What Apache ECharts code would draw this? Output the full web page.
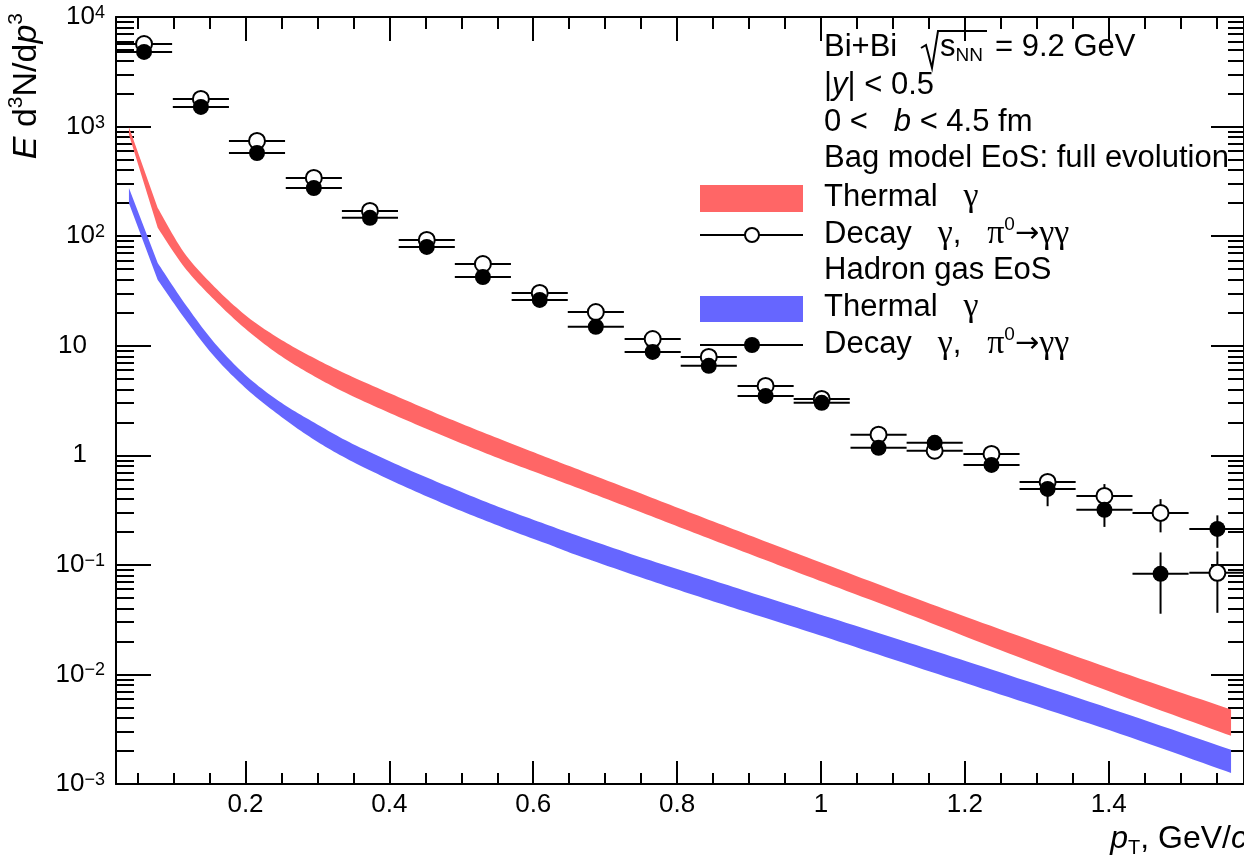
<!DOCTYPE html>
<html>
<head>
<meta charset="utf-8">
<script src="https://cdn.jsdelivr.net/npm/echarts@6/dist/echarts.min.js"></script>
<style>
html, body { margin: 0; padding: 0; background: #fff; }
#chart { width: 1244px; height: 857px; }
</style>
</head>
<body>
<div id="chart"></div>
<script>
// pT bin centres of the decay-photon histograms, GeV/c
var binCenters = [0.059, 0.138, 0.216, 0.295, 0.373, 0.452, 0.530, 0.609, 0.687, 0.766,
                  0.844, 0.923, 1.001, 1.080, 1.158, 1.237, 1.315, 1.394, 1.472, 1.551];
var binHalf = 0.039;

// Bag model EoS, decay gamma (open circles)
var bagDecay = [5670, 1786, 739, 340, 170, 92.3, 55.7, 30.3, 20.3, 11.5,
                7.9, 4.30, 3.27, 1.54, 1.10, 1.03, 0.571, 0.426, 0.298, 0.0845];
var bagDecayErr = [60, 25, 12, 6, 3.5, 2.2, 1.5, 0.9, 0.7, 0.45,
                   0.35, 0.25, 0.2, 0.12, 0.12, 0.1, 0.09, 0.12, 0.1, 0.048];

// Hadron gas EoS, decay gamma (filled circles)
var hadDecay = [4800, 1510, 574, 275, 147, 79.7, 42.4, 26.2, 14.9, 8.78,
                6.55, 3.48, 3.01, 1.17, 1.30, 0.817, 0.493, 0.318, 0.0828, 0.213];
var hadDecayErr = [55, 22, 11, 5.5, 3.2, 2, 1.3, 0.85, 0.6, 0.4,
                   0.32, 0.22, 0.2, 0.12, 0.15, 0.1, 0.15, 0.096, 0.047, 0.07];

// thermal photon bands (upper / lower edge)
var bandPt = [0.038, 0.078, 0.115, 0.157, 0.203, 0.25, 0.296, 0.344, 0.413, 0.483, 0.552,
              0.622, 0.663, 0.75, 0.83, 0.913, 0.997, 1.122, 1.248, 1.415, 1.57];
var bagTop = [991, 181, 70.3, 34.4, 18.3, 11.3, 7.67, 5.37, 3.39, 2.16, 1.42,
              0.940, 0.740, 0.447, 0.280, 0.173, 0.1067, 0.0522, 0.0260, 0.0106, 0.00479];
var bagLow = [843, 119, 52.1, 26.1, 13.7, 8.0, 5.25, 3.59, 2.24, 1.43, 0.938,
              0.631, 0.500, 0.302, 0.189, 0.117, 0.0721, 0.0353, 0.0168, 0.00646, 0.00275];
var hadTop = [275, 56.9, 24.6, 10.6, 5.19, 3.01, 1.98, 1.32, 0.809, 0.515, 0.338,
              0.229, 0.183, 0.117, 0.0794, 0.0531, 0.0355, 0.0195, 0.0105, 0.00457, 0.00205];
var hadLow = [200, 39.8, 17.9, 7.91, 3.95, 2.24, 1.38, 0.908, 0.548, 0.345, 0.227,
              0.153, 0.121, 0.0767, 0.0513, 0.0343, 0.0229, 0.0123, 0.00661, 0.00288, 0.00126];

// axis ticks
var xMajor = [0.2, 0.4, 0.6, 0.8, 1, 1.2, 1.4];
var yMajor = [0.001, 0.01, 0.1, 1, 10, 100, 1000, 10000];
var xMinor = [];
for (var k = 1; k <= 31; k++) {
    if (k % 4 !== 0) xMinor.push(Math.round(k * 5) / 100);
}
var yMinor = [];
for (var e = -3; e <= 3; e++) {
    for (var m = 2; m <= 9; m++) yMinor.push(m * Math.pow(10, e));
}

var SANS = 'Liberation Sans';
var SERIF = 'Liberation Serif';
var black = '#000';

var myChart = echarts.init(document.getElementById('chart'));

// catmull-rom through pixel points, just for a smooth outline
function crSample(p, out) {
    for (var i = 0; i < p.length - 1; i++) {
        var a = p[Math.max(i - 1, 0)], b = p[i], c = p[i + 1], d = p[Math.min(i + 2, p.length - 1)];
        for (var s = 0; s < 12; s++) {
            var t = s / 12, t2 = t * t, t3 = t2 * t;
            var pt = [0, 1].map(function (j) {
                return 0.5 * (2 * b[j] + (c[j] - a[j]) * t +
                    (2 * a[j] - 5 * b[j] + 4 * c[j] - d[j]) * t2 +
                    (3 * b[j] - a[j] - 3 * c[j] + d[j]) * t3);
            });
            out.push(pt);
        }
    }
    out.push(p[p.length - 1]);
}

function bandSeries(top, low, color) {
    return {
        type: 'custom',
        silent: true,
        data: bandPt.map(function (x, i) { return [x, top[i], low[i]]; }),
        renderItem: function (params, api) {
            if (params.dataIndex !== 0) return null;
            var up = [], dn = [];
            for (var i = 0; i < bandPt.length; i++) {
                up.push(api.coord([bandPt[i], top[i]]));
                dn.push(api.coord([bandPt[i], low[i]]));
            }
            var pts = [up[0]];
            crSample(up.slice(1), pts);
            crSample(dn.slice(1).reverse(), pts);
            pts.push(dn[0]);
            return { type: 'polygon', shape: { points: pts }, style: { fill: color } };
        }
    };
}

function errorSeries(vals, errs) {
    return {
        type: 'custom',
        silent: true,
        data: binCenters.map(function (x, i) { return [x, vals[i], errs[i]]; }),
        renderItem: function (params, api) {
            var x = api.value(0), y = api.value(1), er = api.value(2);
            var l = api.coord([x - binHalf, y]);
            var r = api.coord([x + binHalf, y]);
            var t = api.coord([x, y + er]);
            var b = api.coord([x, Math.max(y - er, 1e-4)]);
            var st = { stroke: black, lineWidth: 2 };
            return {
                type: 'group',
                children: [
                    { type: 'line', shape: { x1: l[0], y1: l[1], x2: r[0], y2: r[1] }, style: st },
                    { type: 'line', shape: { x1: t[0], y1: t[1], x2: b[0], y2: b[1] }, style: st }
                ]
            };
        }
    };
}

function xAx(pos, ticks, len, showLine, showLabel) {
    return {
        type: 'value', min: 0.02, max: 1.588, position: pos,
        axisLine: { show: showLine, onZero: false, lineStyle: { color: black, width: 2 } },
        axisTick: { show: true, inside: true, length: len, customValues: ticks,
                    lineStyle: { color: black, width: 2 } },
        axisLabel: showLabel ? {
            customValues: xMajor, margin: 8, color: black, fontFamily: SANS, fontSize: 26
        } : { show: false },
        splitLine: { show: false }
    };
}

function yLabel(v) {
    var p = Math.round(Math.log10(v));
    if (p === 0) return '1{pad|}';
    if (p === 1) return '10{pad|}';
    return '10{s|' + (p < 0 ? '\u2212' + (-p) : p) + '}';
}

function yAx(pos, ticks, len, showLine, showLabel) {
    return {
        type: 'log', logBase: 10, min: 0.001, max: 10000, position: pos,
        axisLine: { show: showLine, onZero: false, lineStyle: { color: black, width: 2 } },
        axisTick: { show: true, inside: true, length: len, customValues: ticks,
                    lineStyle: { color: black, width: 2 } },
        axisLabel: showLabel ? {
            customValues: yMajor, margin: 11, color: black, fontFamily: SANS, fontSize: 26,
            formatter: yLabel,
            rich: {
                s: { fontFamily: SANS, fontSize: 18, lineHeight: 18, verticalAlign: 'top', color: black },
                pad: { width: 18 }
            }
        } : { show: false },
        splitLine: { show: false }
    };
}

function makeRich(fs) {
    var lh = Math.round(fs * 1.2);
    var sf = Math.round(fs * 0.62);
    return {
        n: { fontFamily: SANS, fontSize: fs, lineHeight: lh, fill: black },
        i: { fontFamily: SANS, fontSize: fs, lineHeight: lh, fontStyle: 'italic', fill: black },
        g: { fontFamily: SERIF, fontSize: fs + 3, lineHeight: lh, fill: black },
        a: { fontFamily: 'DejaVu Sans', fontSize: fs - 2, lineHeight: lh, fill: black },
        sup: { fontFamily: SANS, fontSize: sf, lineHeight: sf, verticalAlign: 'top', fill: black },
        sub: { fontFamily: SANS, fontSize: sf, lineHeight: sf, verticalAlign: 'bottom', fill: black }
    };
}
var rich = makeRich(31);

function txt(x, y, s, align, r) {
    return {
        type: 'text', x: x, y: y, silent: true,
        style: { text: s, rich: r || rich, fill: black, verticalAlign: 'middle',
                 align: align || 'left', font: '31px ' + SANS }
    };
}

var decayText = '{n|Decay   }{g|\u03b3}{n|,   }{g|\u03c0}{sup|0}{a|\u2192}{g|\u03b3\u03b3}';

var graphics = [
    txt(824, 47, '{n|Bi+Bi}'),
    { type: 'polyline', silent: true,
      shape: { points: [[921, 48], [926, 45], [932, 68], [938, 31], [987, 31]] },
      style: { stroke: black, lineWidth: 2, fill: null } },
    txt(940, 47, '{n|s}{sub|NN}'),
    txt(995, 47, '{n|= 9.2 GeV}'),
    txt(824, 85, '{n||}{i|y}{n|| < 0.5}'),
    txt(824, 122, '{n|0 <   }{i|b}{n| < 4.5 fm}'),
    txt(824, 158, '{n|Bag model EoS: full evolution}'),
    { type: 'rect', silent: true, shape: { x: 700, y: 185, width: 103, height: 27 },
      style: { fill: '#ff6666' } },
    txt(824, 197, '{n|Thermal   }{g|\u03b3}'),
    { type: 'line', silent: true, shape: { x1: 700, y1: 235, x2: 803, y2: 235 },
      style: { stroke: black, lineWidth: 2 } },
    { type: 'circle', silent: true, shape: { cx: 752, cy: 235, r: 7 },
      style: { fill: '#fff', stroke: black, lineWidth: 2 } },
    txt(824, 234, decayText),
    txt(824, 270, '{n|Hadron gas EoS}'),
    { type: 'rect', silent: true, shape: { x: 700, y: 296, width: 103, height: 26 },
      style: { fill: '#6666ff' } },
    txt(824, 307, '{n|Thermal   }{g|\u03b3}'),
    { type: 'line', silent: true, shape: { x1: 700, y1: 345, x2: 803, y2: 345 },
      style: { stroke: black, lineWidth: 2 } },
    { type: 'circle', silent: true, shape: { cx: 752, cy: 345, r: 8 },
      style: { fill: black } },
    txt(824, 344, decayText),
    // axis titles
    txt(1247, 839, '{i|p}{sub|T}{n|, GeV/}{i|c}', 'right', makeRich(32)),
    { type: 'text', x: 47, y: 13, rotation: Math.PI / 2, silent: true,
      style: { text: '{i|E}{n| d}{sup|3}{n|N/d}{i|p}{sup|3}', rich: makeRich(34), fill: black,
               align: 'right', verticalAlign: 'bottom', font: '34px ' + SANS } }
];

var option = {
    animation: false,
    backgroundColor: '#fff',
    grid: { left: 116, top: 17, right: -1, bottom: 73 },
    xAxis: [
        xAx('bottom', xMajor, 23, true, true),
        xAx('bottom', xMinor, 11, false, false),
        xAx('top', xMajor, 24, true, false),
        xAx('top', xMinor, 12, false, false)
    ],
    yAxis: [
        yAx('left', yMajor, 35, true, true),
        yAx('left', yMinor, 18, false, false),
        yAx('right', yMajor, 33, true, false),
        yAx('right', yMinor, 16, false, false)
    ],
    graphic: graphics,
    series: [
        bandSeries(bagTop, bagLow, '#ff6666'),
        bandSeries(hadTop, hadLow, '#6666ff'),
        errorSeries(bagDecay, bagDecayErr),
        {
            type: 'scatter', symbol: 'circle', symbolSize: 16, silent: true,
            data: binCenters.map(function (x, i) { return [x, bagDecay[i]]; }),
            itemStyle: { color: '#fff', borderColor: black, borderWidth: 2, opacity: 1 }
        },
        errorSeries(hadDecay, hadDecayErr),
        {
            type: 'scatter', symbol: 'circle', symbolSize: 16, silent: true,
            data: binCenters.map(function (x, i) { return [x, hadDecay[i]]; }),
            itemStyle: { color: black, opacity: 1 }
        }
    ]
};

myChart.setOption(option);
</script>
</body>
</html>
